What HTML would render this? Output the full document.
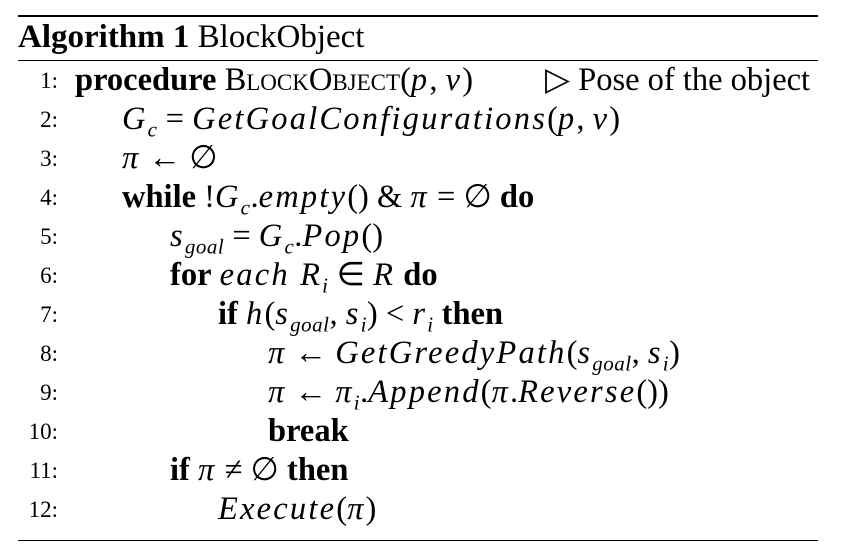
<!DOCTYPE html>
<html><head><meta charset="utf-8"><style>
html,body{margin:0;padding:0;background:#fff;}
body{width:842px;height:559px;position:relative;overflow:hidden;font-family:"Liberation Serif",serif;color:#000;}
.rule{position:absolute;left:18px;width:800px;background:#000;}
.ln{position:absolute;left:0;height:39px;line-height:39px;font-size:32.5px;white-space:nowrap;}
.num{position:absolute;width:58px;text-align:right;font-size:23px;left:0;top:0;}
.code{position:absolute;top:0;}
i{font-style:italic;letter-spacing:2.2px;}
sub{font-size:21px;letter-spacing:0.5px;}
b{font-weight:bold;}
.sc{font-variant:small-caps;}
</style></head><body>
<div class="rule" style="top:15px;height:2px;"></div>
<div class="ln" style="top:18px;left:18px;font-size:33px;"><b>Algorithm 1</b> BlockObject</div>
<div class="rule" style="top:60px;height:1px;"></div>

<div class="ln" style="top:61px;width:842px;"><span class="num">1:</span><span class="code" style="left:75px;"><b>procedure</b> <span class="sc">BlockObject</span>(<i>p</i>, <i>v</i>)</span><span class="code" style="left:545px;">▷ Pose of the object</span></div>
<div class="ln" style="top:100px;width:842px;"><span class="num">2:</span><span class="code" style="left:122px;"><i>G<sub>c</sub></i> = <i>GetGoalConfigurations</i>(<i>p</i>, <i>v</i>)</span></div>
<div class="ln" style="top:139px;width:842px;"><span class="num">3:</span><span class="code" style="left:122px;"><i>π</i> ← ∅</span></div>
<div class="ln" style="top:178px;width:842px;"><span class="num">4:</span><span class="code" style="left:122px;"><b>while</b> !<i>G<sub>c</sub></i>.<i>empty</i>() &amp; <i>π</i> = ∅ <b>do</b></span></div>
<div class="ln" style="top:217px;width:842px;"><span class="num">5:</span><span class="code" style="left:170px;"><i>s<sub>goal</sub></i> = <i>G<sub>c</sub></i>.<i>Pop</i>()</span></div>
<div class="ln" style="top:256px;width:842px;"><span class="num">6:</span><span class="code" style="left:170px;"><b>for</b> <i>each R<sub>i</sub></i> ∈ <i>R</i> <b>do</b></span></div>
<div class="ln" style="top:295px;width:842px;"><span class="num">7:</span><span class="code" style="left:218px;"><b>if</b> <i>h</i>(<i>s<sub>goal</sub></i>, <i>s<sub>i</sub></i>) &lt; <i>r<sub>i</sub></i> <b>then</b></span></div>
<div class="ln" style="top:334px;width:842px;"><span class="num">8:</span><span class="code" style="left:268px;"><i>π</i> ← <i>GetGreedyPath</i>(<i>s<sub>goal</sub></i>, <i>s<sub>i</sub></i>)</span></div>
<div class="ln" style="top:373px;width:842px;"><span class="num">9:</span><span class="code" style="left:268px;"><i>π</i> ← <i>π<sub>i</sub></i>.<i>Append</i>(<i>π</i>.<i>Reverse</i>())</span></div>
<div class="ln" style="top:412px;width:842px;"><span class="num">10:</span><span class="code" style="left:268px;"><b>break</b></span></div>
<div class="ln" style="top:451px;width:842px;"><span class="num">11:</span><span class="code" style="left:170px;"><b>if</b> <i>π</i> ≠ ∅ <b>then</b></span></div>
<div class="ln" style="top:490px;width:842px;"><span class="num">12:</span><span class="code" style="left:218px;"><i>Execute</i>(<i>π</i>)</span></div>

<div class="rule" style="top:540px;height:1px;"></div>
</body></html>
